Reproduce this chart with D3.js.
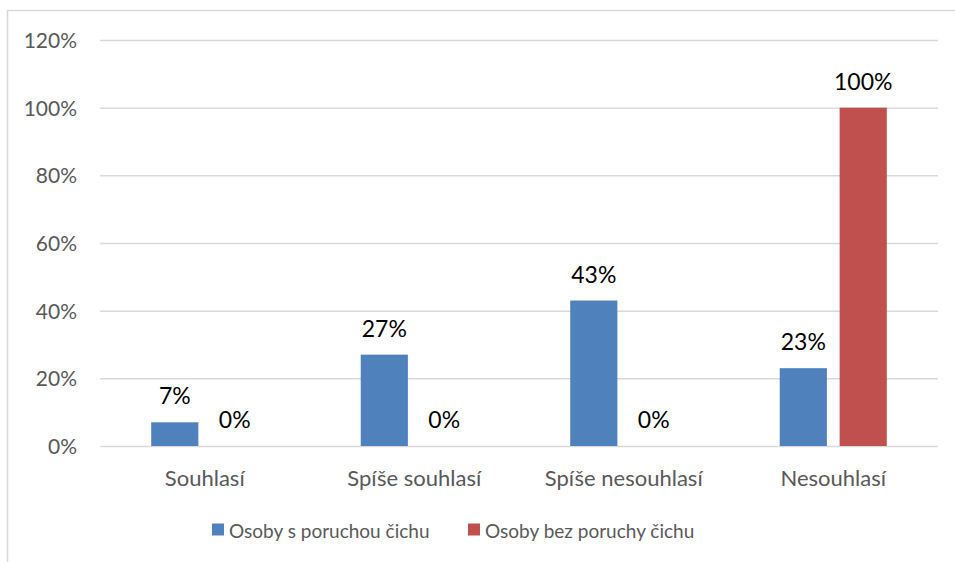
<!DOCTYPE html>
<html>
<head>
<meta charset="utf-8">
<script src="https://cdn.jsdelivr.net/npm/d3@7"></script>
<style>
  html, body { margin: 0; padding: 0; background: #fff; }
  svg { display: block; }
  text { font-family: Lato, "Liberation Sans", sans-serif; }
</style>
</head>
<body>
<svg id="chart" width="955" height="562"></svg>
<script>
// Answers by category, share of respondents in each group
const categories = ["Souhlasí", "Spíše souhlasí", "Spíše nesouhlasí", "Nesouhlasí"];
const seriesNames = ["Osoby s poruchou čichu", "Osoby bez poruchy čichu"];
const withDisorder = [7, 27, 43, 23];
const withoutDisorder = [0, 0, 0, 100];
const yTicks = [0, 20, 40, 60, 80, 100, 120];
const colors = ["#4F81BD", "#C0504D"];

const svg = d3.select("#chart");
const plot = { left: 100, right: 938, top: 40, bottom: 446 };

// outer chart frame (runs off the right and bottom edges)
svg.append("rect")
  .attr("x", 7.5).attr("y", 10.5)
  .attr("width", 960).attr("height", 600)
  .attr("fill", "#fff").attr("stroke", "#D9D9D9").attr("stroke-width", 1.5);

const x0 = d3.scaleBand().domain(categories).range([plot.left, plot.right]).paddingInner(0).paddingOuter(0);
const x1 = d3.scaleBand().domain([0, 1]).range([0, x0.bandwidth()]).paddingInner(0.213).paddingOuter(0.855);
const y = d3.scaleLinear().domain([0, 120]).range([plot.bottom, plot.top]);

// horizontal gridlines and percent labels
const yAxis = d3.axisLeft(y).tickValues(yTicks).tickFormat(d => d + "%")
  .tickSize(-(plot.right - plot.left)).tickPadding(23);
const gy = svg.append("g").attr("transform", `translate(${plot.left},0)`).call(yAxis);
gy.select(".domain").remove();
gy.selectAll(".tick line").attr("stroke", "#D9D9D9").attr("stroke-width", 1.5);
gy.selectAll(".tick text")
  .attr("fill", "#595959").attr("font-size", 21).attr("dy", "0.36em")
  .style("font-family", "Lato, 'Liberation Sans', sans-serif");

// category labels
const xAxis = d3.axisBottom(x0).tickSize(0).tickPadding(24);
const gx = svg.append("g").attr("transform", `translate(0,${plot.bottom})`).call(xAxis);
gx.select(".domain").remove();
gx.selectAll(".tick text")
  .attr("fill", "#595959").attr("font-size", 22)
  .style("font-family", "Lato, 'Liberation Sans', sans-serif");

const rows = categories.map((c, i) => ({ cat: c, vals: [withDisorder[i], withoutDisorder[i]] }));

const groups = svg.append("g").selectAll("g").data(rows).join("g")
  .attr("transform", d => `translate(${x0(d.cat)},0)`);

groups.selectAll("rect").data(d => d.vals.map((v, s) => ({ v, s }))).join("rect")
  .attr("x", d => x1(d.s))
  .attr("width", x1.bandwidth())
  .attr("y", d => y(d.v))
  .attr("height", d => y(0) - y(d.v))
  .attr("fill", d => colors[d.s]);

groups.selectAll("text.val").data(d => d.vals.map((v, s) => ({ v, s }))).join("text")
  .attr("class", "val")
  .attr("x", d => x1(d.s) + x1.bandwidth() / 2)
  .attr("y", d => y(d.v) - 18)
  .attr("text-anchor", "middle")
  .attr("font-size", 23)
  .attr("fill", "#000")
  .text(d => d.v + "%");

// legend
const legendItems = [
  { name: seriesNames[0], color: colors[0], x: 212 },
  { name: seriesNames[1], color: colors[1], x: 468 }
];
const lg = svg.append("g").selectAll("g").data(legendItems).join("g")
  .attr("transform", d => `translate(${d.x},0)`);
lg.append("rect").attr("x", 0).attr("y", 523.5).attr("width", 12).attr("height", 12)
  .attr("fill", d => d.color);
lg.append("text").attr("x", 17).attr("y", 538)
  .attr("font-size", 19).attr("fill", "#595959")
  .text(d => d.name);
</script>
</body>
</html>
